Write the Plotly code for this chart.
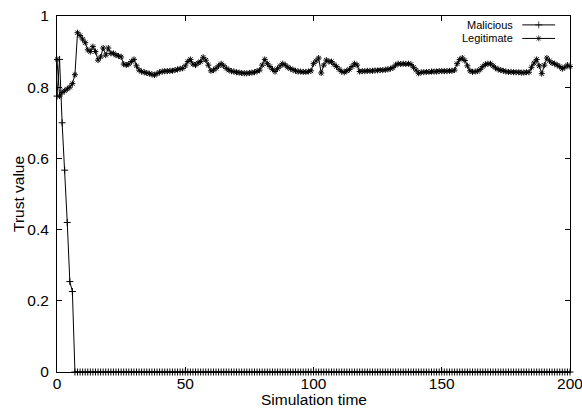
import plotly.graph_objects as go

# ---------------- data ----------------
sim_time = list(range(0, 201))

malicious = [0.775, 0.878, 0.700, 0.567, 0.420, 0.254, 0.226] + [0.0] * 194

legitimate = [
    0.878, 0.775, 0.785, 0.790, 0.795, 0.800, 0.810, 0.835, 0.953, 0.945,
    0.935, 0.925, 0.905, 0.900, 0.914, 0.900, 0.876, 0.885, 0.910, 0.890,
    0.910, 0.895, 0.895, 0.890, 0.888, 0.885, 0.865, 0.862, 0.865, 0.872,
    0.878, 0.860, 0.848, 0.844, 0.842, 0.840, 0.838, 0.836, 0.834, 0.838,
    0.842, 0.844, 0.845, 0.845, 0.846, 0.846, 0.848, 0.850, 0.852, 0.853,
    0.860, 0.872, 0.878, 0.865, 0.862, 0.868, 0.872, 0.884, 0.876, 0.862,
    0.846, 0.848, 0.853, 0.860, 0.866, 0.860, 0.853, 0.848, 0.845, 0.844,
    0.842, 0.841, 0.840, 0.839, 0.839, 0.840, 0.841, 0.842, 0.845, 0.848,
    0.862, 0.878, 0.866, 0.858, 0.850, 0.844, 0.852, 0.860, 0.866, 0.862,
    0.856, 0.852, 0.849, 0.846, 0.844, 0.844, 0.843, 0.843, 0.844, 0.846,
    0.866, 0.874, 0.882, 0.840, 0.862, 0.876, 0.872, 0.872, 0.864, 0.858,
    0.850, 0.844, 0.842, 0.846, 0.850, 0.858, 0.866, 0.862, 0.844, 0.845,
    0.845, 0.846, 0.846, 0.846, 0.847, 0.847, 0.848, 0.848, 0.849, 0.850,
    0.852, 0.855, 0.862, 0.866, 0.865, 0.866, 0.865, 0.866, 0.864, 0.856,
    0.848, 0.839, 0.842, 0.842, 0.843, 0.843, 0.844, 0.844, 0.844, 0.845,
    0.845, 0.845, 0.845, 0.846, 0.846, 0.848, 0.866, 0.878, 0.882, 0.875,
    0.860, 0.846, 0.843, 0.844, 0.845, 0.850, 0.858, 0.864, 0.866, 0.866,
    0.860, 0.854, 0.850, 0.848, 0.846, 0.844, 0.843, 0.843, 0.842, 0.842,
    0.842, 0.841, 0.841, 0.842, 0.842, 0.856, 0.868, 0.878, 0.860, 0.838,
    0.862, 0.882, 0.874, 0.868, 0.866, 0.862, 0.858, 0.852, 0.856, 0.862,
    0.858,
]

series_names = ["Malicious", "Legitimate"]
series_symbols = ["cross-thin-open", "asterisk-open"]
x_ticks = [0, 50, 100, 150, 200]
y_ticks = [0, 0.2, 0.4, 0.6, 0.8, 1]
y_tick_text = ["0", "0.2", "0.4", "0.6", "0.8", "1"]
x_title = "Simulation time"
y_title = "Trust value"

FONT = "Liberation Sans, Arial, Helvetica, sans-serif"

fig = go.Figure()
for name, vals, sym in zip(series_names, [malicious, legitimate], series_symbols):
    fig.add_trace(go.Scatter(
        x=sim_time, y=vals, name=name, mode="lines+markers",
        line=dict(color="black", width=1),
        marker=dict(symbol=sym, size=5, color="black", line=dict(color="black", width=1)),
        cliponaxis=False, showlegend=False,
    ))

# custom gnuplot-style legend (text on the left, sample on the right)
legend_rows_y = [0.975, 0.937]
for name, sym, yy in zip(series_names, series_symbols, legend_rows_y):
    fig.add_annotation(
        x=0.893, y=yy, xref="paper", yref="paper", text=name, showarrow=False,
        xanchor="right", yanchor="middle", font=dict(family=FONT, size=11, color="black"),
    )
    fig.add_trace(go.Scatter(
        x=[0.907, 0.939, 0.971], y=[yy, yy, yy], xaxis="x2", yaxis="y2",
        mode="lines+markers", line=dict(color="black", width=1),
        marker=dict(symbol=sym, size=[0, 5, 0], color="black", line=dict(color="black", width=1)),
        showlegend=False, hoverinfo="skip", cliponaxis=False,
    ))

# axis titles
fig.add_annotation(x=0.5, y=-0.078, xref="paper", yref="paper", text=x_title,
                   showarrow=False, xanchor="center", yanchor="middle",
                   font=dict(family=FONT, size=15.5, color="black"))
fig.add_annotation(x=-0.076, y=0.5, xref="paper", yref="paper", text=y_title,
                   showarrow=False, xanchor="center", yanchor="middle", textangle=-90,
                   font=dict(family=FONT, size=15.5, color="black"))

axis_common = dict(
    showline=True, linecolor="black", linewidth=1, mirror="ticks",
    ticks="inside", ticklen=5, tickcolor="black", tickwidth=1,
    showgrid=False, zeroline=False, automargin=False,
    ticklabeloverflow="allow",
    tickfont=dict(family=FONT, size=15.5, color="black"),
)

fig.update_layout(
    width=582, height=410,
    margin=dict(l=57, r=12, t=16, b=38),
    paper_bgcolor="white", plot_bgcolor="white",
    font=dict(family=FONT, color="black"),
    showlegend=False,
    xaxis=dict(range=[0, 200], tickvals=x_ticks, ticklabelstandoff=-3, **axis_common),
    yaxis=dict(range=[0, 1], tickvals=y_ticks, ticktext=y_tick_text, ticklabelstandoff=4,
               **axis_common),
    xaxis2=dict(overlaying="x", range=[0, 1], visible=False, fixedrange=True),
    yaxis2=dict(overlaying="y", range=[0, 1], visible=False, fixedrange=True),
)

fig.write_html("out.html")
